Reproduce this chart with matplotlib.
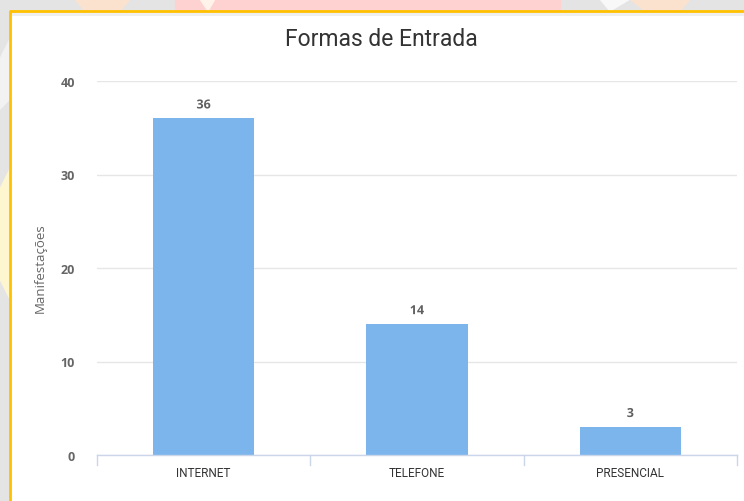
import matplotlib
matplotlib.use("Agg")
import matplotlib.pyplot as plt
from matplotlib.patches import Rectangle, Polygon
import matplotlib.patheffects as pe

categories = ["INTERNET", "TELEFONE", "PRESENCIAL"]
values = [36, 14, 3]
yticks = [0, 10, 20, 30, 40]
title = "Formas de Entrada"
ylabel = "Manifestações"

W, H = 744, 502
fig = plt.figure(figsize=(W / 100, H / 100), dpi=100)
fig.patch.set_facecolor("#e4e4e4")

def px(x, y):
    return (x / W, 1 - y / H)

# decorative background (top strip and left edge)
bg = fig.add_axes([0, 0, 1, 1], zorder=-10)
bg.set_xlim(0, W); bg.set_ylim(H, 0); bg.axis("off")
bg.add_patch(Polygon([(175, 0), (560, 0), (560, 12), (175, 12)], closed=True, color="#ffd2d2"))
bg.add_patch(Polygon([(75, 0), (130, 0), (120, 12), (85, 12)], closed=True, color="#fbe2cf"))
bg.add_patch(Polygon([(200, 0), (215, 0), (208, 12)], closed=True, color="#fff3ea"))
bg.add_patch(Polygon([(600, 0), (630, 0), (610, 12)], closed=True, color="#f8f8f8"))
bg.add_patch(Polygon([(630, 0), (690, 0), (680, 12), (645, 12)], closed=True, color="#fbe2cf"))
bg.add_patch(Polygon([(0, 190), (10, 170), (10, 300), (0, 280)], closed=True, color="#fdf6cf"))
bg.add_patch(Polygon([(0, 60), (10, 40), (10, 100), (0, 110)], closed=True, color="#f2f2f2"))
# white panel with amber border
bg.add_patch(Rectangle((10, 12), W, H, facecolor="white", edgecolor="none"))
bg.add_patch(Rectangle((11, 13), W, 4, facecolor="#efefef", edgecolor="none"))
bg.plot([10, 10, W], [H, 12, 12], color="#ffc000", lw=2, solid_capstyle="butt")

# plot area
left, right, top, bottom = 97, 737, 82, 456
ax = fig.add_axes([left / W, 1 - bottom / H, (right - left) / W, (bottom - top) / H])
ax.set_facecolor("none")
x = range(len(categories))
ax.bar(x, values, width=0.475, color="#7cb5ec", zorder=3)
ax.set_xlim(-0.5, len(categories) - 0.5)
ax.set_ylim(0, 40)
ax.set_yticks(yticks)
ax.set_yticklabels([str(t) for t in yticks], color="#666666", fontsize=9,
                   fontweight="bold", family=["Open Sans", "DejaVu Sans"])
ax.tick_params(axis="y", length=0, pad=16)
ax.set_xticks(list(x))
ax.set_xticklabels(categories, color="#333333", fontsize=8.5,
                   family=["Roboto", "DejaVu Sans"])
ax.tick_params(axis="x", length=0, pad=8)
# category boundary ticks
for b in [-0.5, 0.5, 1.5, 2.5]:
    ax.plot([b, b], [0, -1.1], color="#ccd6eb", lw=1, clip_on=False, zorder=4)
ax.grid(axis="y", color="#e6e6e6", lw=1, zorder=0)
for s in ["top", "right", "left"]:
    ax.spines[s].set_visible(False)
ax.spines["bottom"].set_color("#ccd6eb")
ax.spines["bottom"].set_linewidth(1)
ax.spines["bottom"].set_zorder(5)

for xi, v in zip(x, values):
    ax.annotate(str(v), (xi, v), xytext=(0, 5), textcoords="offset points",
                ha="center", va="bottom", fontsize=9, fontweight="bold",
                color="#606060", family=["Open Sans", "DejaVu Sans"],
                path_effects=[pe.withStroke(linewidth=2, foreground="white")])

fig.text(*px(40, 268), ylabel, rotation=90, ha="center", va="center",
         color="#666666", fontsize=9.5, family=["Open Sans", "DejaVu Sans"])
fig.text(*px(381, 40), title, ha="center", va="center", color="#333333",
         fontsize=16.5, family=["Roboto", "DejaVu Sans"])

fig.savefig("out.png", dpi=100, facecolor=fig.get_facecolor())
